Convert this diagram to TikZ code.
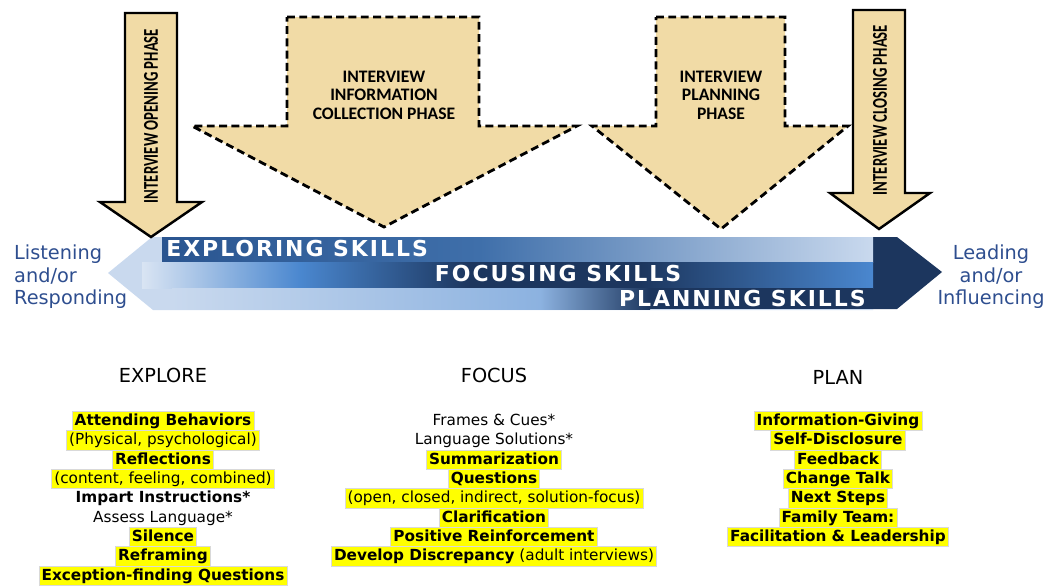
\documentclass[tikz,border=0pt]{standalone}
\usepackage{fontspec}
\setmainfont{DejaVu Sans}
\newfontfamily\phasefont{Carlito}
\newfontfamily\bandfont[LetterSpace=9]{DejaVu Sans}
\usetikzlibrary{positioning}

\definecolor{parchment}{HTML}{F1DBA6}
\definecolor{navy}{HTML}{1C365E}
\definecolor{deepblue}{HTML}{2A5590}
\definecolor{midblue}{HTML}{3F6FAA}
\definecolor{brightblue}{HTML}{4A87CF}
\definecolor{softblue}{HTML}{8CB2E0}
\definecolor{paleblue}{HTML}{C9D9EE}
\definecolor{sideblue}{HTML}{2E4E8F}
\definecolor{marker}{HTML}{FFFF00}

\newcommand{\squeeze}[1]{\scalebox{0.7}[1]{#1}}

\tikzset{phase/.style={
        fill=parchment,
        draw=black,
        line width=1.4pt,
        line join=miter
}}
\tikzset{bigphase/.style={
        fill=parchment,
        draw=black,
        line width=1.6pt,
        dash pattern=on 4.5pt off 2.5pt
}}
\tikzset{phaselabel/.style={
        font=\phasefont\bfseries\fontsize{10}{10.5}\selectfont,
        align=center
}}
\tikzset{bandlabel/.style={
        font=\bandfont\bfseries\fontsize{12.5}{12.5}\selectfont,
        text=white,
        inner sep=0pt
}}
\tikzset{side/.style={
        font=\fontsize{11}{12.8}\selectfont,
        text=sideblue
}}
\tikzset{heading/.style={font=\fontsize{11}{11}\selectfont}}
\tikzset{item/.style={
        font=\fontsize{8.7}{10}\selectfont,
        inner xsep=1.5pt,
        inner ysep=0pt,
        outer sep=0pt,
        text height=8pt,
        text depth=3pt
}}
\tikzset{hl/.style={fill=marker, draw=black!15, line width=0.4pt}}

\begin{document}
\begin{tikzpicture}[x=0.02cm, y=-0.02cm]
\useasboundingbox (0,0) rectangle (1044,586);

% the skills band
\fill[paleblue] (108,273) -- (152,237) -- (873,237) -- (873,310) -- (153,310) -- cycle;
\fill[navy] (873,237) -- (897,237) -- (942,272) -- (897,309) -- (873,309) -- cycle;
% exploring stripe
\shade[left color=deepblue, right color=midblue] (162,237) rectangle (480,262);
\shade[left color=midblue, right color=paleblue] (480,237) rectangle (873,262);
% focusing stripe
\shade[left color=paleblue!70!white, right color=brightblue] (142,262) rectangle (300,288);
\shade[left color=brightblue, right color=navy] (300,262) rectangle (470,288);
\fill[navy] (470,262) rectangle (640,288);
\shade[left color=navy, right color=brightblue] (640,262) rectangle (873,288);
% planning stripe
\shade[left color=paleblue, right color=softblue] (172,288) rectangle (540,309);
\shade[left color=softblue, right color=navy] (540,288) rectangle (650,309);
\fill[navy] (650,288) rectangle (873,309);

\node[bandlabel, anchor=west] (explore band) at (166,248) {EXPLORING SKILLS};
\node[bandlabel] (focus band) at (558,273) {FOCUSING SKILLS};
\node[bandlabel, anchor=east] (plan band) at (866,298) {PLANNING SKILLS};

\node[side, anchor=west, align=left] (listen) at (8,277) {Listening\\and/or\\Responding};
\node[side, align=center] (lead) at (991,277) {Leading\\and/or\\Influencing};

% phase arrows
\draw[bigphase] (287,17) -- (479,17) -- (479,126) -- (577,126) -- (384,227)
    -- (192,126) -- (287,126) -- cycle;
\draw[bigphase] (656,17) -- (785,17) -- (785,126) -- (848,126) -- (721,229)
    -- (592,126) -- (656,126) -- cycle;
\draw[phase] (125,13) -- (177,13) -- (177,202) -- (202,202) -- (151,237)
    -- (100,202) -- (125,202) -- cycle;
\draw[phase] (853,10) -- (905,10) -- (905,193) -- (930,193) -- (879,229)
    -- (830,193) -- (853,193) -- cycle;

\node[phaselabel] (collect) at (384,95) {INTERVIEW\\INFORMATION\\COLLECTION PHASE};
\node[phaselabel] (planning) at (721,95) {INTERVIEW\\PLANNING\\PHASE};
\node[phaselabel, font=\phasefont\bfseries\fontsize{12}{12}\selectfont, rotate=90]
    (opening) at (151,116) {\squeeze{INTERVIEW OPENING PHASE}};
\node[phaselabel, font=\phasefont\bfseries\fontsize{12}{12}\selectfont, rotate=90]
    (closing) at (880,110) {\squeeze{INTERVIEW CLOSING PHASE}};

% explore list
\node[heading] (explore) at (163,375) {EXPLORE};
\node[item, hl] (ex1) at (163,421) {\bfseries Attending Behaviors};
\node[item, hl, below=0pt of ex1] (ex2) {(Physical, psychological)};
\node[item, hl, below=0pt of ex2] (ex3) {\bfseries Reflections};
\node[item, hl, below=0pt of ex3] (ex4) {(content, feeling, combined)};
\node[item, below=0pt of ex4] (ex5) {\bfseries Impart Instructions*};
\node[item, below=0pt of ex5] (ex6) {Assess Language*};
\node[item, hl, below=0pt of ex6] (ex7) {\bfseries Silence};
\node[item, hl, below=0pt of ex7] (ex8) {\bfseries Reframing};
\node[item, hl, below=0pt of ex8] (ex9) {\bfseries Exception-finding Questions};

% focus list
\node[heading] (focus) at (494,375) {FOCUS};
\node[item] (fo1) at (494,421) {Frames \& Cues*};
\node[item, below=0pt of fo1] (fo2) {Language Solutions*};
\node[item, hl, below=0pt of fo2] (fo3) {\bfseries Summarization};
\node[item, hl, below=0pt of fo3] (fo4) {\bfseries Questions};
\node[item, hl, below=0pt of fo4] (fo5) {(open, closed, indirect, solution-focus)};
\node[item, hl, below=0pt of fo5] (fo6) {\bfseries Clarification};
\node[item, hl, below=0pt of fo6] (fo7) {\bfseries Positive Reinforcement};
\node[item, hl, below=0pt of fo7] (fo8) {\textbf{Develop Discrepancy} (adult interviews)};

% plan list
\node[heading] (plan) at (838,377) {PLAN};
\node[item, hl] (pl1) at (838,421) {\bfseries Information-Giving};
\node[item, hl, below=0pt of pl1] (pl2) {\bfseries Self-Disclosure};
\node[item, hl, below=0pt of pl2] (pl3) {\bfseries Feedback};
\node[item, hl, below=0pt of pl3] (pl4) {\bfseries Change Talk};
\node[item, hl, below=0pt of pl4] (pl5) {\bfseries Next Steps};
\node[item, hl, below=0pt of pl5] (pl6) {\bfseries Family Team:};
\node[item, hl, below=0pt of pl6] (pl7) {\bfseries Facilitation \& Leadership};
\end{tikzpicture}
\end{document}
